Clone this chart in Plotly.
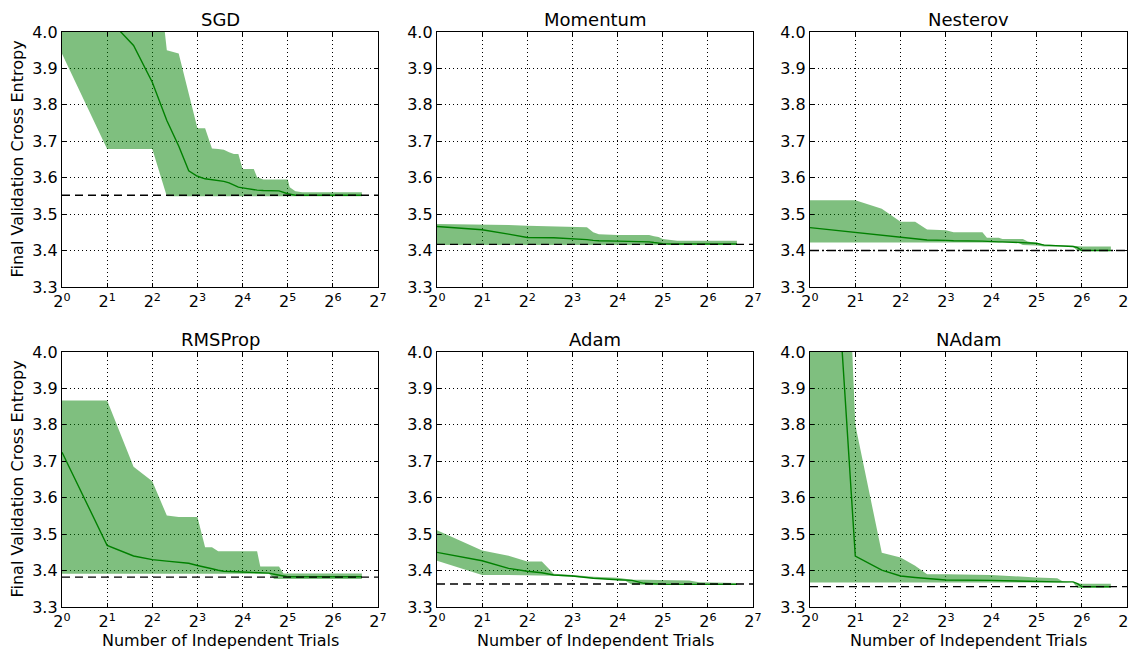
import math
import plotly.graph_objects as go

# ---------------- data ----------------
titles = ["SGD", "Momentum", "Nesterov", "RMSProp", "Adam", "NAdam"]

sgd_n    = [1, 2, 3, 4, 5, 6, 7, 8, 9, 10, 11, 12, 13, 14, 15, 16, 18, 19, 20, 22, 28, 32, 33, 36, 40, 100]
sgd_mean = [4.30, 4.04, 3.963, 3.862, 3.757, 3.687, 3.619, 3.604, 3.597, 3.595, 3.593, 3.590, 3.586, 3.579,
            3.574, 3.572, 3.568, 3.567, 3.566, 3.565, 3.564, 3.556, 3.555, 3.552, 3.552, 3.552]
sgd_lo   = [3.940, 3.679, 3.679, 3.679, 3.549, 3.549, 3.549, 3.549, 3.549, 3.549, 3.549, 3.549, 3.549, 3.549,
            3.549, 3.549, 3.549, 3.549, 3.549, 3.549, 3.549, 3.549, 3.549, 3.549, 3.549, 3.549]
sgd_hi   = [4.60, 4.60, 4.60, 4.31, 3.950, 3.941, 3.830, 3.736, 3.736, 3.680, 3.679, 3.677, 3.670, 3.665,
            3.665, 3.624, 3.624, 3.624, 3.601, 3.595, 3.595, 3.595, 3.574, 3.563, 3.560, 3.560]
sgd_best = 3.552

mom_n    = [1, 2, 3, 4, 6, 8, 10, 11, 12, 16, 24, 26, 28, 30, 32, 36, 40, 100]
mom_mean = [3.466, 3.457, 3.445, 3.436, 3.435, 3.433, 3.430, 3.428, 3.427, 3.426, 3.426, 3.424, 3.422,
            3.420, 3.419, 3.418, 3.418, 3.418]
mom_lo   = [3.415] * 18
mom_hi   = [3.473, 3.472, 3.470, 3.468, 3.466, 3.465, 3.464, 3.450, 3.445, 3.443, 3.443, 3.443, 3.439,
            3.437, 3.432, 3.430, 3.427, 3.427]
mom_best = 3.417

nes_n    = [1, 2, 3, 4, 5, 6, 8, 9, 14, 15, 16, 18, 19, 24, 26, 28, 32, 36, 56, 60, 64, 100]
nes_mean = [3.463, 3.450, 3.443, 3.436, 3.432, 3.429, 3.428, 3.427, 3.426, 3.425, 3.425, 3.424, 3.424,
            3.422, 3.422, 3.421, 3.420, 3.415, 3.411, 3.408, 3.400, 3.400]
nes_lo   = [3.422, 3.422, 3.422, 3.422, 3.422, 3.422, 3.422, 3.422, 3.422, 3.422, 3.422, 3.422, 3.422,
            3.422, 3.415, 3.415, 3.414, 3.411, 3.411, 3.399, 3.399, 3.399]
nes_hi   = [3.538, 3.538, 3.515, 3.479, 3.479, 3.458, 3.456, 3.450, 3.450, 3.435, 3.435, 3.435, 3.432,
            3.432, 3.432, 3.425, 3.420, 3.417, 3.413, 3.411, 3.411, 3.411]
nes_best = 3.400

rms_n    = [1, 2, 3, 4, 5, 6, 7, 8, 9, 10, 11, 12, 16, 20, 21, 24, 26, 28, 30, 32, 100]
rms_mean = [3.725, 3.469, 3.440, 3.430, 3.426, 3.423, 3.420, 3.414, 3.410, 3.405, 3.401, 3.398, 3.396,
            3.395, 3.394, 3.393, 3.390, 3.388, 3.386, 3.383, 3.383]
rms_lo   = [3.391, 3.391, 3.391, 3.391, 3.391, 3.391, 3.391, 3.391, 3.391, 3.391, 3.391, 3.391, 3.391,
            3.391, 3.391, 3.391, 3.377, 3.377, 3.377, 3.377, 3.377]
rms_hi   = [3.867, 3.867, 3.685, 3.645, 3.551, 3.547, 3.547, 3.547, 3.464, 3.464, 3.453, 3.453, 3.453,
            3.453, 3.411, 3.411, 3.411, 3.411, 3.392, 3.392, 3.392]
rms_best = 3.382

adam_n    = [1, 2, 3, 4, 5, 6, 8, 11, 16, 18, 20, 24, 28, 32, 48, 56, 100]
adam_mean = [3.450, 3.427, 3.406, 3.398, 3.394, 3.388, 3.385, 3.379, 3.375, 3.374, 3.373, 3.365, 3.363,
             3.362, 3.362, 3.362, 3.362]
adam_lo   = [3.427, 3.388, 3.388, 3.388, 3.388, 3.386, 3.383, 3.378, 3.374, 3.372, 3.361, 3.361, 3.361,
             3.361, 3.361, 3.361, 3.361]
adam_hi   = [3.511, 3.455, 3.441, 3.425, 3.425, 3.391, 3.388, 3.383, 3.380, 3.378, 3.375, 3.375, 3.375,
             3.375, 3.373, 3.368, 3.366]
adam_best = 3.363

nadam_n    = [1, 2, 3, 4, 5, 6, 8, 16, 32, 44, 48, 56, 60, 64, 100]
nadam_mean = [5.38, 3.440, 3.401, 3.385, 3.381, 3.378, 3.374, 3.373, 3.369, 3.369, 3.369, 3.369, 3.364,
              3.356, 3.356]
nadam_lo   = [3.367, 3.367, 3.367, 3.367, 3.367, 3.367, 3.367, 3.367, 3.367, 3.367, 3.367, 3.367, 3.352,
              3.352, 3.352]
nadam_hi   = [6.80, 3.800, 3.449, 3.436, 3.413, 3.390, 3.390, 3.388, 3.381, 3.379, 3.370, 3.366, 3.364,
              3.364, 3.364]
nadam_best = 3.356

x_tickvals = [1, 2, 4, 8, 16, 32, 64, 128]
x_ticktext = ["2<sup>%d</sup>" % k for k in range(8)]
y_tickvals = [3.3, 3.4, 3.5, 3.6, 3.7, 3.8, 3.9, 4.0]

panels = [
    (sgd_n, sgd_mean, sgd_lo, sgd_hi, sgd_best, "8px,5px"),
    (mom_n, mom_mean, mom_lo, mom_hi, mom_best, "8px,5px"),
    (nes_n, nes_mean, nes_lo, nes_hi, nes_best, "9px,3px,2px,3px"),
    (rms_n, rms_mean, rms_lo, rms_hi, rms_best, "8px,5px"),
    (adam_n, adam_mean, adam_lo, adam_hi, adam_best, "8px,5px"),
    (nadam_n, nadam_mean, nadam_lo, nadam_hi, nadam_best, "8px,5px"),
]

# ---------------- layout geometry ----------------
# The page body has an 8px margin, so the figure starts 8px into the window;
# it is sized to end exactly at the window's right and bottom edges.
OFF = 8
W, H = 1136 - OFF, 651 - OFF
col_px = [(62, 378), (437, 753), (810, 1127)]   # page pixels
row_px = [(32, 287), (352, 607)]


def px_x(p):
    return (p - OFF) / W


def px_y(p):
    return 1 - (p - OFF) / H


FONT = "DejaVu Sans"
fig = go.Figure()
layout = dict(
    width=W, height=H, margin=dict(l=0, r=0, t=0, b=0, pad=0),
    paper_bgcolor="white", plot_bgcolor="white",
    font=dict(family=FONT, size=16, color="black", weight="normal"),
    showlegend=False,
)
annotations = []
shapes = []

for i, (n, mean, lo, hi, best, dash) in enumerate(panels):
    r, c = divmod(i, 3)
    k = "" if i == 0 else str(i + 1)
    xa, ya = "x" + k, "y" + k
    x0, x1 = col_px[c]
    y0, y1 = row_px[r]
    common = dict(
        showgrid=True, gridcolor="black", gridwidth=1, griddash="1px,3px",
        showline=True, linecolor="black", linewidth=1.3, mirror="ticks",
        ticks="inside", ticklen=4, tickcolor="black", tickwidth=1,
        zeroline=False, tickfont=dict(size=16, family=FONT, weight="normal"),
        automargin=False, fixedrange=True, ticklabeloverflow="allow",
    )
    layout["xaxis" + k] = dict(
        type="log", range=[0, math.log10(128)], domain=[px_x(x0), px_x(x1)], anchor=ya,
        tickvals=x_tickvals, ticktext=x_ticktext, **common,
    )
    layout["yaxis" + k] = dict(
        range=[3.3, 4.0], domain=[px_y(y1), px_y(y0)], anchor=xa,
        tickvals=y_tickvals, tickformat=".1f", **common,
    )
    fig.add_trace(go.Scatter(x=n, y=lo, xaxis=xa, yaxis=ya, mode="lines",
                             line=dict(width=0, color="rgba(0,128,0,0)"), hoverinfo="skip"))
    fig.add_trace(go.Scatter(x=n, y=hi, xaxis=xa, yaxis=ya, mode="lines", fill="tonexty",
                             fillcolor="rgba(0,128,0,0.5)",
                             line=dict(width=0, color="rgba(0,128,0,0)"), hoverinfo="skip"))
    fig.add_trace(go.Scatter(x=n, y=mean, xaxis=xa, yaxis=ya, mode="lines",
                             line=dict(width=1.4, color="#008000")))
    shapes.append(dict(type="line", xref=xa + " domain", yref=ya, x0=0, x1=1, y0=best, y1=best,
                       line=dict(color="black", width=1.4, dash=dash)))
    annotations.append(dict(text=titles[i], xref="paper", yref="paper",
                            x=px_x((x0 + x1) / 2), y=px_y(y0 - 13),
                            xanchor="center", yanchor="middle", showarrow=False,
                            font=dict(size=18, family=FONT, weight="normal")))
    if r == 1:
        annotations.append(dict(text="Number of Independent Trials", xref="paper", yref="paper",
                                x=px_x((x0 + x1) / 2), y=px_y(640),
                                xanchor="center", yanchor="middle", showarrow=False,
                                font=dict(size=16, family=FONT, weight="normal")))
    if c == 0:
        annotations.append(dict(text="Final Validation Cross Entropy", xref="paper", yref="paper",
                                x=px_x(17), y=px_y((y0 + y1) / 2), textangle=-90,
                                xanchor="center", yanchor="middle", showarrow=False,
                                font=dict(size=16, family=FONT, weight="normal")))

layout["annotations"] = annotations
layout["shapes"] = shapes
fig.update_layout(**layout)
fig.write_html("out.html")
